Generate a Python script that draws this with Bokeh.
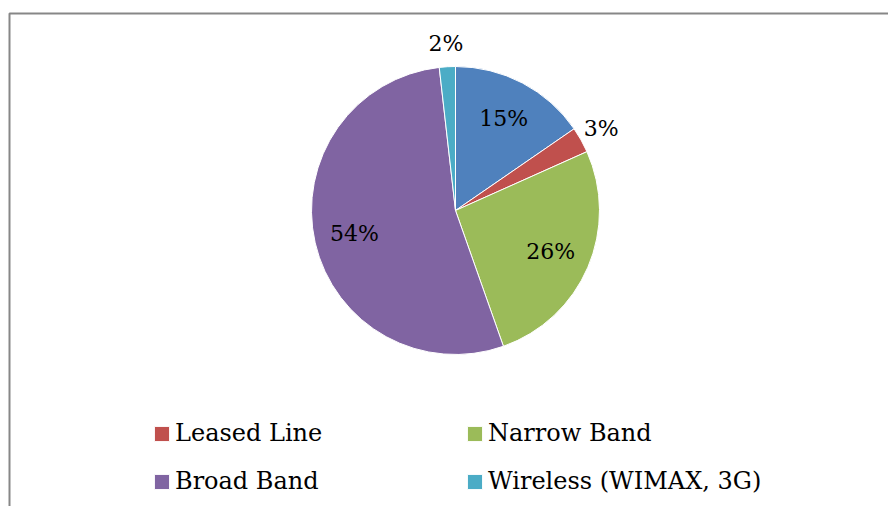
import math
from bokeh.plotting import figure
from bokeh.models import Range1d, Legend, LegendItem, ColumnDataSource
from bokeh.core.properties import value
from bokeh.embed import file_html
from bokeh.resources import INLINE

# ---- data ----
categories = ["Dial Up", "Leased Line", "Narrow Band", "Broad Band", "Wireless (WIMAX, 3G)"]
shares = [15.4, 2.9, 26.3, 53.6, 1.8]
colors = ["#4F81BD", "#C0504D", "#9BBB59", "#8064A2", "#4BACC6"]
legend_left = ["Leased Line", "Broad Band"]
legend_right = ["Narrow Band", "Wireless (WIMAX, 3G)"]

# ---- layout ----
W, H = 888, 506
cx, cy, R = 455, 296, 144
FONT = "DejaVu Serif"

total = sum(shares)
starts, ends, lx, ly, labels = [], [], [], [], []
cum = 0.0
for v in shares:
    a0 = math.pi / 2 - 2 * math.pi * cum / total
    cum += v
    a1 = math.pi / 2 - 2 * math.pi * cum / total
    starts.append(a0)
    ends.append(a1)
    mid = (a0 + a1) / 2
    pct = 100 * v / total
    r = 0.72 * R if pct >= 5 else 1.16 * R
    lx.append(cx + r * math.cos(mid))
    ly.append(cy + r * math.sin(mid))
    labels.append(f"{pct:.0f}%")

src = ColumnDataSource(dict(cat=categories, start=starts, end=ends, color=colors,
                            lx=lx, ly=ly, label=labels))

p = figure(width=W, height=H, x_range=Range1d(0, W), y_range=Range1d(0, H),
           x_axis_type=None, y_axis_type=None, toolbar_location=None,
           output_backend="svg", min_border=0, outline_line_color=None,
           background_fill_color="white", border_fill_color="white")
p.grid.visible = False

# chart-area frame (top and left edges visible, rest cropped)
p.line(x=[9, 9, W + 20], y=[-20, 493, 493], line_color="#878787", line_width=2)

wr = p.wedge(x=cx, y=cy, radius=R, start_angle="start", end_angle="end",
             direction="clock", fill_color="color", line_color="white",
             line_width=1, source=src)

p.text(x="lx", y="ly", text="label", source=src, text_align="center",
       text_baseline="middle", text_font=value(FONT), text_font_size="22px",
       text_color="black")

def make_legend(names, x, y):
    items = [LegendItem(label=n, renderers=[wr], index=categories.index(n)) for n in names]
    lg = Legend(items=items, location=(x, y), orientation="vertical",
                glyph_width=19, glyph_height=19, label_standoff=4,
                label_text_font=FONT, label_text_font_size="24px",
                label_text_color="black", label_height=26, spacing=20,
                padding=0, margin=0, border_line_alpha=0,
                background_fill_alpha=0)
    p.add_layout(lg, "center")

make_legend(legend_left, 152, 11)
make_legend(legend_right, 465, 11)

open("out.html", "w").write(file_html(p, INLINE))
